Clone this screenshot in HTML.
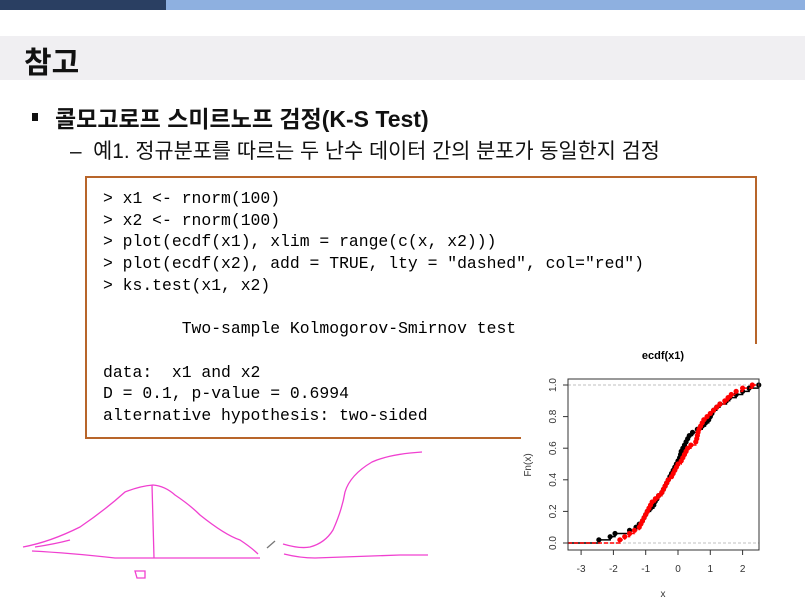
<!DOCTYPE html>
<html><head><meta charset="utf-8">
<style>
body{margin:0;width:805px;height:608px;overflow:hidden;background:#fff;font-family:"Liberation Sans","Noto Sans CJK KR",sans-serif;position:relative}
.abs{position:absolute}
pre{margin:0;font-family:"Liberation Mono",monospace;font-size:16.4px;line-height:21.7px;color:#000}
</style></head><body>
<div class="abs" style="left:0;top:0;width:166px;height:10px;background:#2a3f62"></div>
<div class="abs" style="left:166px;top:0;width:639px;height:10px;background:#8eb0e0"></div>
<div class="abs" style="left:0;top:36px;width:805px;height:44px;background:#f0eff2"></div>
<div class="abs" style="left:24px;top:38px;font-size:30px;font-weight:bold;color:#111">참고</div>
<div class="abs" style="left:32px;top:113px;width:6px;height:8px;background:#111"></div>
<div class="abs" style="left:55px;top:100px;font-size:23px;font-weight:bold;color:#111">콜모고로프 스미르노프 검정(K-S Test)</div>
<div class="abs" style="left:70px;top:134px;font-size:20.8px;color:#111">–&nbsp; 예1. 정규분포를 따르는 두 난수 데이터 간의 분포가 동일한지 검정</div>
<div class="abs" style="left:85px;top:176px;width:668px;height:259px;border:2px solid #b8652a"></div>
<pre class="abs" style="left:103px;top:188px">&gt; x1 &lt;- rnorm(100)
&gt; x2 &lt;- rnorm(100)
&gt; plot(ecdf(x1), xlim = range(c(x, x2)))
&gt; plot(ecdf(x2), add = TRUE, lty = "dashed", col="red")
&gt; ks.test(x1, x2)

        Two-sample Kolmogorov-Smirnov test

data:  x1 and x2
D = 0.1, p-value = 0.6994
alternative hypothesis: two-sided</pre>
<svg class="abs" style="left:0;top:0" width="805" height="608">
<g fill="none" stroke="#f040d0" stroke-width="1.3">
<path d="M23,547 Q50,542 80,527 Q105,510 125,492 Q140,486 153,485 Q165,486 175,495 Q190,505 200,515 Q225,535 240,540 Q252,548 258,554"/>
<path d="M32,551 Q70,553 115,558 L260,558"/>
<path d="M35,547 Q55,544 70,540"/>
<path d="M152,485 L154,558"/>
<path d="M135,571 L145,571 L145,578 L137,578 Z"/>
<path d="M283,544 Q300,549 310,547 Q325,543 333,530 Q342,510 345,492 Q350,475 372,462 Q390,454 422,452"/>
<path d="M284,554 Q300,558 315,558 L400,555 L428,555"/>
<path d="M267,548 L275,541" stroke="#777"/>
</g></svg>
<div class="abs" style="left:521px;top:344px;width:284px;height:264px;background:#fff"></div>
<svg class="abs" id="chart" style="left:0;top:0" width="805" height="608"></svg>
<script>
const blackX=[-2.45,-2.1,-1.95,-1.5,-1.3,-1.2,-1.1,-1.05,-1.0,-0.95,-0.85,-0.75,-0.72,-0.65,-0.6,-0.5,-0.45,-0.4,-0.35,-0.3,-0.25,-0.2,-0.15,-0.1,-0.05,0.0,0.05,0.08,0.1,0.15,0.2,0.25,0.3,0.35,0.45,0.6,0.75,0.85,0.95,1.0,1.05,1.1,1.2,1.3,1.5,1.6,1.8,2.0,2.2,2.5];
const redX=[-1.8,-1.65,-1.5,-1.35,-1.2,-1.15,-1.1,-1.05,-1.0,-0.95,-0.9,-0.85,-0.8,-0.7,-0.6,-0.5,-0.45,-0.4,-0.35,-0.3,-0.2,-0.15,-0.1,-0.05,0.0,0.1,0.15,0.2,0.25,0.3,0.4,0.55,0.58,0.6,0.62,0.65,0.7,0.75,0.8,0.9,1.0,1.1,1.2,1.3,1.45,1.55,1.65,1.8,2.0,2.3];
const xTicks=[-3,-2,-1,0,1,2];
const yTicks=[0.0,0.2,0.4,0.6,0.8,1.0];
const NS='http://www.w3.org/2000/svg';
const svg=document.getElementById('chart');
const L=568,R=759,T=379,B=550;
const sx=v=>678+v*32.3;
const sy=v=>543-v*158;
function mk(t,a,parent){const e=document.createElementNS(NS,t);for(const k in a)e.setAttribute(k,a[k]);(parent||svg).appendChild(e);return e;}
const title=mk('text',{x:663,y:359,'text-anchor':'middle','font-size':11,'font-weight':'bold','font-family':'Liberation Sans, sans-serif'});title.textContent='ecdf(x1)';


[0,1].forEach(v=>{const l=mk('line',{x1:L,x2:R,y1:sy(v),y2:sy(v),stroke:'#aaa','stroke-dasharray':'3,2','stroke-width':0.8});

});
function ecdf(xs,col,name){const n=xs.length;const g=mk('g',{});


let d='M'+L+','+sy(0)+' L'+sx(xs[0])+','+sy(0);
xs.forEach((x,i)=>{const f=(i+1)/n;const nx=i<n-1?sx(xs[i+1]):R;d+=' L'+sx(x)+','+sy(f)+' L'+Math.min(nx,R)+','+sy(f);});
mk('path',{d:d,fill:'none',stroke:col,'stroke-width':1.5,'stroke-dasharray':col==='red'?'4,2':'none'},g);
xs.forEach((x,i)=>{if(sx(x)>R)return;const c=mk('circle',{cx:sx(x),cy:sy((i+1)/n),r:2.6,fill:col},g);

});}
ecdf(blackX,'#000','series-x1');
ecdf(redX,'red','series-x2');
mk('rect',{x:L,y:T,width:R-L,height:B-T,fill:'none',stroke:'#333','stroke-width':1});
xTicks.forEach(v=>{mk('line',{x1:sx(v),x2:sx(v),y1:B,y2:B+5,stroke:'#333'});
const t=mk('text',{x:sx(v),y:B+22,'text-anchor':'middle','font-size':10,fill:'#333','font-family':'Liberation Sans, sans-serif'});t.textContent=v;

});
yTicks.forEach(v=>{mk('line',{x1:L,x2:L-5,y1:sy(v),y2:sy(v),stroke:'#333'});
const t=mk('text',{x:556,y:sy(v),'text-anchor':'middle','font-size':10,fill:'#333','font-family':'Liberation Sans, sans-serif',transform:'rotate(-90 556 '+sy(v)+')'});t.textContent=v.toFixed(1);

});
const xl=mk('text',{x:663,y:597,'text-anchor':'middle','font-size':10,fill:'#333','font-family':'Liberation Sans, sans-serif'});xl.textContent='x';


const yl=mk('text',{x:531,y:465,'text-anchor':'middle','font-size':10,fill:'#333','font-family':'Liberation Sans, sans-serif',transform:'rotate(-90 531 465)'});yl.textContent='Fn(x)';


</script>
</body></html>
